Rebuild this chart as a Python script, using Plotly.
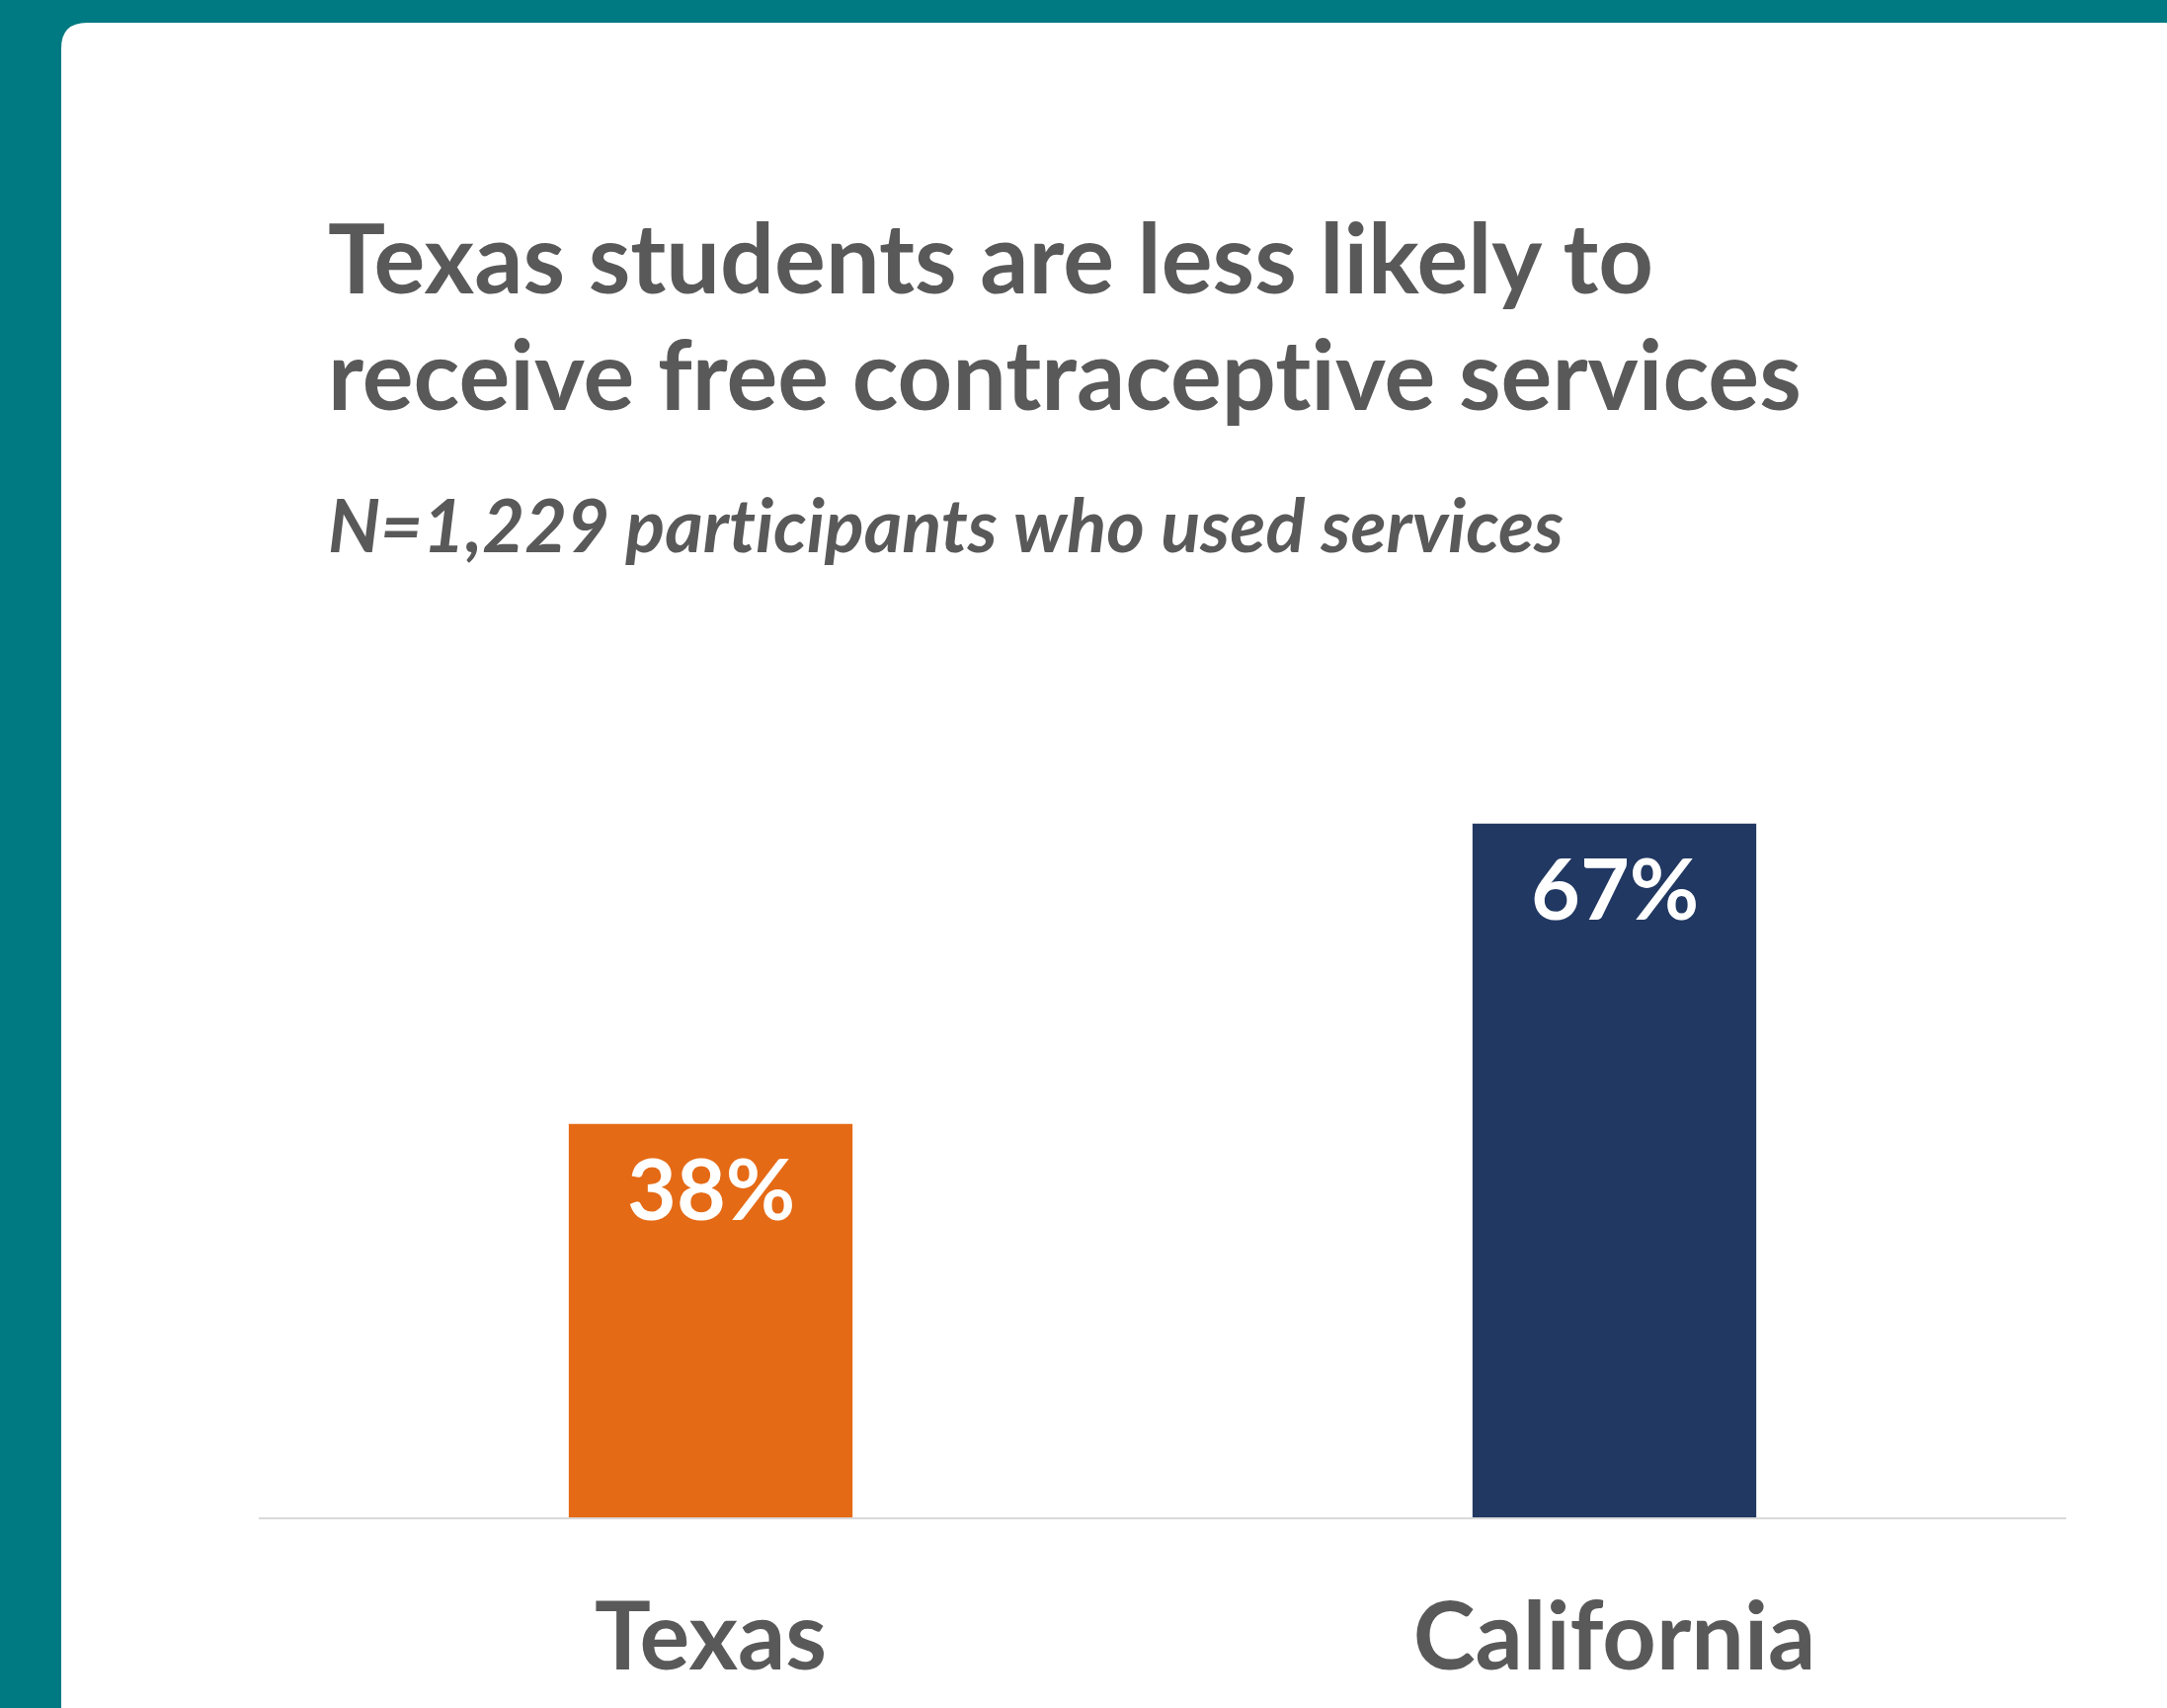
import plotly.graph_objects as go

categories = ["Texas", "California"]
values = [38, 67]
labels = ["38%", "67%"]
bar_colors = ["#E56A15", "#213862"]

title_lines = ["Texas students are less likely to", "receive free contraceptive services"]
subtitle_text = "N=1,229 participants who used services"

W, H = 2194, 1729
L, R, T, B = 262, 2092, 488, 1536
pw, ph = R - L, B - T

def px(x):
    return (x - L) / pw

def py(y):
    return (B - y) / ph

fig = go.Figure()
fig.add_trace(go.Bar(
    x=categories, y=values, marker=dict(color=bar_colors, line=dict(width=0)),
    width=0.314, hoverinfo="skip",
))

for c, v, t in zip(categories, values, labels):
    fig.add_annotation(x=c, y=v, xref="x", yref="y", text=t, showarrow=False,
                       yanchor="top", yshift=-10,
                       font=dict(family="Lato", size=86, color="white", weight="bold"))

# card background
x0, y0, r = px(62), py(23), 26
x1, y1 = px(W + 50), py(H + 50)
rx, ry = r / pw, r / ph
path = (f"M {x0},{y0 - ry} Q {x0},{y0} {x0 + rx},{y0} L {x1},{y0} L {x1},{y1} L {x0},{y1} Z")
fig.add_shape(type="path", path=path, xref="paper", yref="paper",
              fillcolor="white", line=dict(width=0), layer="below")

for line, top in zip(title_lines, [199, 317]):
    fig.add_annotation(x=px(330), y=py(top), xref="paper", yref="paper", text=line,
                       showarrow=False, xanchor="left", yanchor="top", align="left",
                       font=dict(family="Lato", size=97, color="#595959", weight="bold"))
fig.add_annotation(x=px(330), y=py(484), xref="paper", yref="paper", text="<i>" + subtitle_text + "</i>",
                   showarrow=False, xanchor="left", yanchor="top", align="left",
                   font=dict(family="Lato", size=74, color="#595959", weight="bold"))

fig.update_layout(
    width=W, height=H,
    margin=dict(l=L, r=W - R, t=T, b=H - B, autoexpand=False),
    paper_bgcolor="#007A82", plot_bgcolor="rgba(0,0,0,0)",
    showlegend=False,
    xaxis=dict(range=[-0.5, 1.5], showgrid=False, zeroline=False, showline=True,
               linecolor="#D9D9D9", linewidth=2, ticks="", ticklabelstandoff=38,
               tickfont=dict(family="Lato", size=95, color="#595959", weight="bold"),
               automargin=False, fixedrange=True),
    yaxis=dict(range=[0, 100], showgrid=False, zeroline=False, showline=False,
               showticklabels=False, automargin=False, fixedrange=True),
)

post = (
    "document.body.style.margin='0';document.body.style.overflow='hidden';"
    "var s=document.createElement('style');"
    "s.textContent='svg text, svg tspan {font-variant-ligatures:none !important;"
    "font-feature-settings:\"liga\" 0, \"clig\" 0 !important;}';"
    "document.head.appendChild(s);"
)
fig.write_html("out.html", config={"displayModeBar": False}, post_script=post)
